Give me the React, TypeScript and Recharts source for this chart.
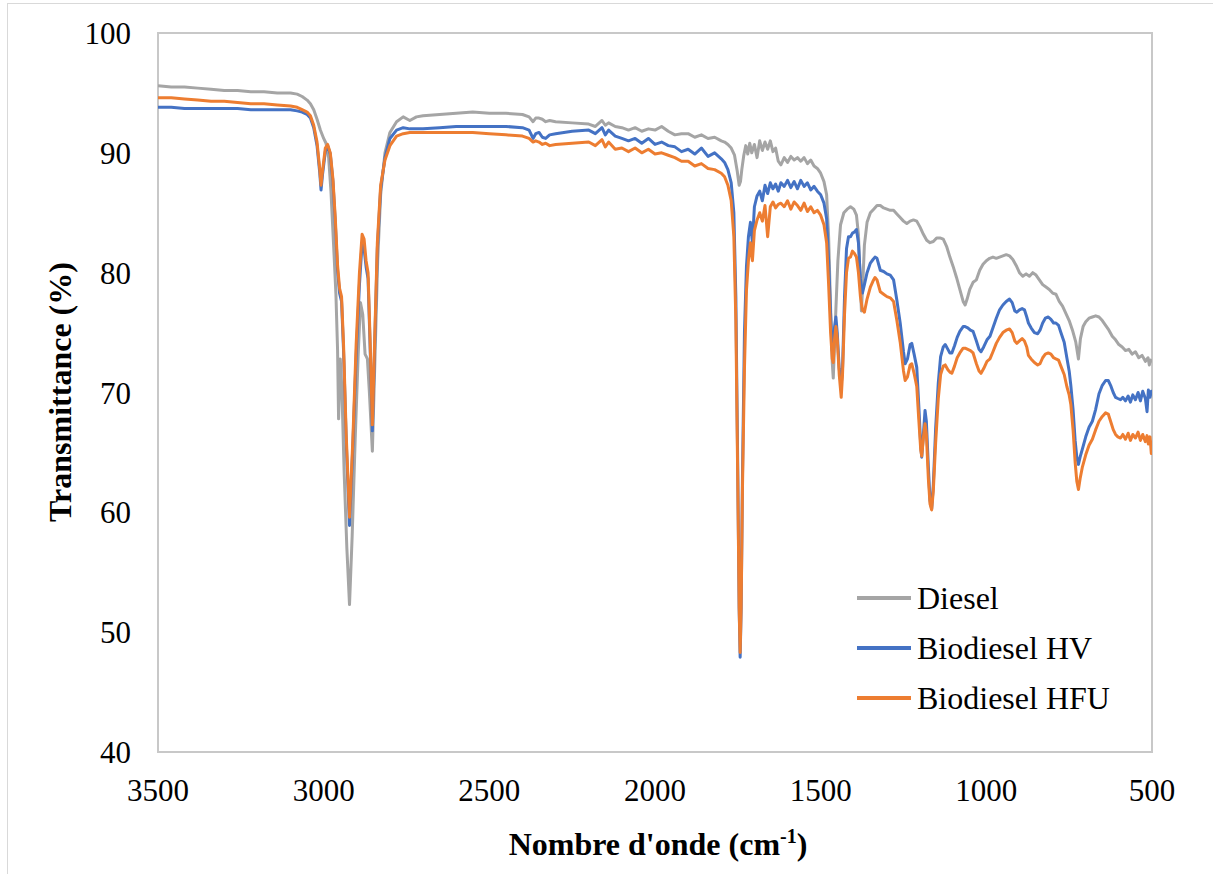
import { Legend, Line, LineChart, ReferenceArea, XAxis, YAxis, Label } from "recharts";

const FONT = '"Liberation Serif", "Times New Roman", serif';

const X_TICKS = [3500, 3000, 2500, 2000, 1500, 1000, 500];
const Y_TICKS = [40, 50, 60, 70, 80, 90, 100];

// [wavenumber cm-1, transmittance %]
const DIESEL: [number, number][] = [
  [3500, 95.6], [3460, 95.5], [3420, 95.5], [3380, 95.4], [3340, 95.3], [3300, 95.2], [3260, 95.2], [3220, 95.1],
  [3180, 95.1], [3140, 95.0], [3100, 95.0], [3080, 94.9], [3065, 94.7], [3050, 94.4], [3040, 94.1], [3030, 93.6],
  [3020, 92.8], [3010, 91.9], [3000, 91.2], [2993, 90.8], [2985, 89.6], [2978, 86.8], [2970, 82.3], [2963, 78.2],
  [2958, 73.5], [2955, 67.8], [2950, 72.8], [2945, 70.2], [2938, 63.2], [2930, 57.0], [2922, 52.3], [2914, 58.0],
  [2905, 66.0], [2896, 73.0], [2889, 77.5], [2882, 76.5], [2875, 73.2], [2868, 72.8], [2862, 70.0], [2853, 65.1],
  [2845, 73.0], [2837, 81.0], [2828, 86.5], [2815, 90.0], [2800, 91.7], [2780, 92.6], [2760, 93.0], [2740, 92.7],
  [2720, 93.0], [2700, 93.1], [2650, 93.2], [2600, 93.3], [2550, 93.4], [2500, 93.3], [2450, 93.3], [2400, 93.2],
  [2380, 93.0], [2368, 92.6], [2360, 92.9], [2350, 92.9], [2340, 92.8], [2330, 92.6], [2318, 92.7], [2300, 92.6],
  [2250, 92.5], [2200, 92.4], [2180, 92.2], [2160, 92.7], [2150, 92.3], [2140, 92.5], [2120, 92.2], [2100, 92.1],
  [2080, 91.9], [2060, 92.1], [2040, 91.8], [2020, 92.0], [2000, 91.9], [1980, 92.2], [1960, 91.8], [1940, 91.5],
  [1920, 91.6], [1900, 91.6], [1880, 91.3], [1860, 91.5], [1840, 91.2], [1820, 91.3], [1800, 91.0], [1790, 90.9],
  [1780, 90.7], [1770, 90.4], [1760, 89.8], [1752, 88.5], [1746, 87.3], [1742, 87.6], [1738, 88.6], [1732, 89.8],
  [1726, 90.6], [1720, 89.9], [1714, 90.8], [1708, 90.0], [1700, 90.7], [1692, 89.6], [1684, 91.0], [1676, 90.2],
  [1668, 90.9], [1660, 90.3], [1652, 91.0], [1644, 90.1], [1636, 90.4], [1628, 89.3], [1620, 89.0], [1610, 89.6],
  [1600, 89.2], [1590, 89.7], [1580, 89.4], [1570, 89.6], [1560, 89.3], [1550, 89.6], [1540, 89.1], [1530, 89.4],
  [1520, 88.9], [1510, 88.7], [1500, 88.3], [1490, 87.6], [1482, 86.5], [1476, 83.0], [1470, 77.0], [1465, 72.5],
  [1462, 71.2], [1458, 74.0], [1454, 77.0], [1448, 81.0], [1440, 84.0], [1430, 85.0], [1420, 85.3], [1410, 85.5],
  [1400, 85.3], [1392, 84.8], [1386, 83.2], [1381, 79.5], [1377, 76.8], [1373, 79.0], [1368, 82.3], [1360, 84.2],
  [1350, 85.0], [1340, 85.3], [1330, 85.6], [1320, 85.6], [1310, 85.4], [1300, 85.3], [1290, 85.2], [1280, 85.2],
  [1270, 84.9], [1260, 84.6], [1250, 84.3], [1240, 84.1], [1230, 84.3], [1220, 84.4], [1210, 84.3], [1200, 83.8],
  [1190, 83.2], [1180, 82.7], [1170, 82.5], [1160, 82.6], [1150, 82.9], [1140, 82.9], [1130, 82.8], [1120, 82.2],
  [1110, 81.3], [1100, 80.5], [1090, 79.6], [1080, 78.6], [1070, 77.6], [1064, 77.3], [1058, 77.8], [1050, 78.6],
  [1040, 79.2], [1030, 79.4], [1020, 80.2], [1010, 80.7], [1000, 81.0], [990, 81.2], [980, 81.3], [970, 81.2],
  [960, 81.3], [950, 81.4], [940, 81.5], [930, 81.4], [920, 81.1], [910, 80.6], [900, 80.0], [890, 79.7],
  [880, 79.9], [870, 79.7], [860, 80.0], [850, 79.8], [840, 79.4], [830, 79.0], [820, 78.8], [810, 78.6],
  [800, 78.3], [790, 78.2], [780, 77.6], [770, 77.2], [760, 76.6], [750, 76.0], [740, 75.2], [730, 74.2],
  [722, 72.8], [716, 74.5], [708, 75.5], [700, 75.9], [690, 76.2], [680, 76.3], [670, 76.4], [660, 76.3],
  [650, 76.0], [640, 75.6], [630, 75.2], [620, 74.7], [610, 74.4], [600, 74.0], [590, 73.8], [580, 73.5],
  [570, 73.6], [560, 73.2], [550, 73.4], [540, 72.9], [530, 73.1], [520, 72.6], [512, 72.9], [508, 72.3],
  [504, 72.7], [500, 72.5],
];

const BIODIESEL_HV: [number, number][] = [
  [3500, 93.8], [3460, 93.8], [3420, 93.7], [3380, 93.7], [3340, 93.7], [3300, 93.7], [3260, 93.7], [3220, 93.6],
  [3180, 93.6], [3140, 93.6], [3100, 93.6], [3080, 93.5], [3065, 93.4], [3050, 93.2], [3040, 92.9], [3030, 92.1],
  [3020, 90.6], [3012, 88.4], [3008, 86.9], [3003, 88.3], [2995, 90.1], [2988, 90.6], [2980, 89.9], [2972, 87.6],
  [2965, 84.2], [2958, 80.2], [2952, 78.3], [2946, 77.6], [2940, 73.5], [2932, 66.0], [2922, 58.9], [2912, 65.5],
  [2902, 73.0], [2892, 79.0], [2884, 82.5], [2878, 82.0], [2872, 80.5], [2866, 79.5], [2860, 74.0], [2853, 66.8],
  [2846, 74.0], [2838, 82.0], [2828, 87.0], [2815, 89.6], [2800, 91.2], [2780, 91.9], [2760, 92.1], [2740, 92.0],
  [2720, 92.0], [2700, 92.0], [2650, 92.1], [2600, 92.2], [2550, 92.2], [2500, 92.2], [2450, 92.2], [2400, 92.1],
  [2380, 91.9], [2368, 91.2], [2360, 91.6], [2350, 91.7], [2340, 91.3], [2330, 91.2], [2318, 91.5], [2300, 91.6],
  [2250, 91.8], [2200, 91.9], [2180, 91.6], [2160, 92.1], [2150, 91.5], [2140, 91.9], [2120, 91.4], [2100, 91.2],
  [2080, 91.0], [2060, 91.2], [2040, 90.8], [2020, 91.2], [2000, 90.7], [1980, 90.9], [1960, 90.6], [1940, 90.5],
  [1920, 90.1], [1900, 90.3], [1880, 89.9], [1860, 90.4], [1840, 89.7], [1820, 90.0], [1800, 89.5], [1790, 89.2],
  [1780, 88.6], [1770, 87.5], [1762, 85.0], [1756, 78.0], [1750, 63.0], [1746, 52.0], [1743, 47.9], [1740, 52.0],
  [1736, 63.0], [1730, 75.0], [1724, 80.5], [1718, 83.0], [1712, 84.2], [1706, 82.5], [1700, 85.5], [1692, 86.4],
  [1684, 86.8], [1676, 86.0], [1668, 87.3], [1660, 86.6], [1652, 87.5], [1644, 87.0], [1636, 87.4], [1628, 86.8],
  [1620, 87.5], [1610, 87.2], [1600, 87.7], [1590, 87.1], [1580, 87.6], [1570, 87.0], [1560, 87.7], [1550, 87.2],
  [1540, 87.5], [1530, 86.9], [1520, 87.2], [1510, 86.8], [1500, 86.5], [1490, 85.8], [1482, 84.5], [1476, 81.0],
  [1470, 76.5], [1465, 73.5], [1462, 73.2], [1458, 75.5], [1454, 76.3], [1450, 75.0], [1444, 72.0], [1438, 70.6],
  [1434, 72.0], [1428, 78.0], [1422, 82.0], [1416, 83.0], [1410, 83.0], [1404, 83.3], [1398, 83.4], [1392, 83.6],
  [1386, 82.5], [1380, 79.5], [1374, 78.3], [1368, 79.0], [1360, 80.0], [1350, 80.8], [1342, 81.1], [1336, 81.3],
  [1330, 81.2], [1320, 80.2], [1310, 80.1], [1300, 79.9], [1290, 79.8], [1280, 79.4], [1270, 77.7], [1260, 75.8],
  [1250, 73.4], [1245, 72.4], [1238, 72.8], [1230, 74.0], [1225, 74.1], [1218, 73.2], [1210, 72.1], [1204, 69.0],
  [1198, 65.6], [1195, 64.6], [1190, 66.5], [1185, 68.5], [1181, 67.6], [1175, 63.8], [1170, 61.0], [1165, 60.3],
  [1160, 62.3], [1153, 67.0], [1145, 70.8], [1138, 73.0], [1130, 73.8], [1124, 74.0], [1116, 73.6], [1110, 73.3],
  [1104, 73.3], [1096, 73.9], [1088, 74.6], [1080, 75.1], [1070, 75.5], [1064, 75.5], [1056, 75.4], [1048, 75.2],
  [1040, 75.1], [1030, 74.3], [1022, 73.6], [1016, 73.4], [1008, 73.8], [998, 74.4], [989, 74.7], [980, 75.4],
  [970, 76.2], [960, 76.9], [950, 77.3], [940, 77.6], [930, 77.8], [922, 77.5], [914, 76.8], [908, 76.7],
  [900, 76.9], [892, 77.0], [885, 76.9], [878, 76.3], [873, 75.8], [865, 75.4], [855, 75.0], [845, 74.9],
  [838, 75.2], [830, 75.8], [822, 76.2], [813, 76.3], [805, 76.1], [797, 75.8], [790, 75.8], [782, 75.6],
  [775, 75.0], [765, 74.2], [757, 72.9], [750, 71.8], [745, 70.6], [738, 68.5], [732, 66.0], [727, 64.6],
  [722, 64.0], [717, 64.6], [710, 65.3], [700, 66.3], [690, 67.1], [680, 67.6], [670, 68.6], [660, 69.9],
  [650, 70.6], [640, 71.0], [632, 71.0], [625, 70.6], [617, 70.0], [610, 69.6], [603, 69.5], [595, 69.4],
  [588, 69.6], [580, 69.3], [572, 69.7], [565, 69.2], [558, 69.8], [550, 69.4], [542, 70.0], [535, 69.3],
  [528, 70.1], [520, 69.5], [515, 68.4], [511, 70.2], [506, 69.6], [502, 70.1], [500, 69.8],
];

const BIODIESEL_HFU: [number, number][] = [
  [3500, 94.6], [3460, 94.6], [3420, 94.5], [3380, 94.4], [3340, 94.3], [3300, 94.3], [3260, 94.2], [3220, 94.1],
  [3180, 94.1], [3140, 94.0], [3100, 93.9], [3080, 93.8], [3065, 93.6], [3050, 93.4], [3040, 93.1], [3030, 92.3],
  [3020, 90.9], [3012, 88.7], [3008, 87.3], [3003, 88.6], [2995, 90.4], [2988, 90.7], [2980, 90.0], [2972, 87.8],
  [2965, 84.6], [2958, 80.6], [2952, 78.7], [2946, 78.0], [2940, 74.0], [2932, 66.5], [2922, 59.6], [2912, 66.0],
  [2902, 74.0], [2892, 80.0], [2884, 83.2], [2878, 82.8], [2872, 81.0], [2866, 80.0], [2860, 74.5], [2853, 67.3],
  [2846, 74.5], [2838, 82.5], [2828, 87.3], [2815, 89.4], [2800, 90.6], [2780, 91.4], [2760, 91.6], [2740, 91.7],
  [2720, 91.7], [2700, 91.7], [2650, 91.7], [2600, 91.7], [2550, 91.7], [2500, 91.6], [2450, 91.5], [2400, 91.4],
  [2380, 91.2], [2368, 90.9], [2360, 91.0], [2350, 90.9], [2340, 90.7], [2330, 90.8], [2318, 90.6], [2300, 90.7],
  [2250, 90.8], [2200, 90.9], [2180, 90.6], [2160, 91.1], [2150, 90.5], [2140, 90.9], [2120, 90.3], [2100, 90.4],
  [2080, 90.1], [2060, 90.4], [2040, 90.0], [2020, 90.3], [2000, 89.9], [1980, 90.0], [1960, 89.8], [1940, 89.6],
  [1920, 89.3], [1900, 89.3], [1880, 88.9], [1860, 89.1], [1840, 88.7], [1820, 88.6], [1800, 88.3], [1790, 88.0],
  [1780, 87.3], [1770, 86.0], [1762, 83.0], [1756, 76.0], [1750, 62.0], [1746, 52.0], [1743, 48.3], [1740, 52.0],
  [1736, 62.0], [1730, 72.0], [1724, 78.5], [1718, 81.0], [1712, 82.5], [1706, 81.0], [1700, 83.5], [1692, 84.4],
  [1684, 85.0], [1676, 84.3], [1668, 85.6], [1660, 83.0], [1652, 85.5], [1644, 85.9], [1636, 85.4], [1628, 85.7],
  [1620, 85.8], [1610, 85.5], [1600, 86.0], [1590, 85.3], [1580, 85.9], [1570, 85.6], [1560, 85.2], [1550, 85.8],
  [1540, 85.1], [1530, 85.5], [1520, 85.0], [1510, 85.2], [1500, 84.8], [1490, 84.0], [1482, 82.5], [1476, 79.0],
  [1470, 75.0], [1465, 72.8], [1462, 72.5], [1458, 74.5], [1454, 75.5], [1450, 74.5], [1444, 71.5], [1438, 69.6],
  [1434, 71.5], [1428, 76.5], [1422, 80.0], [1416, 81.2], [1410, 81.3], [1404, 81.8], [1398, 81.6], [1392, 81.3],
  [1386, 80.0], [1380, 78.0], [1374, 76.9], [1368, 76.7], [1360, 77.8], [1350, 78.8], [1342, 79.3], [1336, 79.6],
  [1330, 79.4], [1320, 78.4], [1310, 78.2], [1300, 78.0], [1290, 77.9], [1280, 77.6], [1270, 76.0], [1260, 74.2],
  [1250, 71.8], [1245, 71.0], [1238, 71.3], [1230, 72.3], [1225, 72.4], [1218, 71.6], [1210, 70.5], [1204, 67.8],
  [1198, 65.2], [1195, 64.7], [1190, 66.2], [1185, 67.4], [1181, 66.5], [1175, 62.8], [1170, 60.7], [1165, 60.2],
  [1160, 61.8], [1153, 65.8], [1145, 69.5], [1138, 71.5], [1130, 72.2], [1124, 72.3], [1116, 71.9], [1110, 71.7],
  [1104, 71.6], [1096, 72.2], [1088, 72.9], [1080, 73.3], [1070, 73.7], [1064, 73.7], [1056, 73.6], [1048, 73.5],
  [1040, 73.3], [1030, 72.4], [1022, 71.8], [1016, 71.6], [1008, 72.0], [998, 72.6], [989, 72.8], [980, 73.4],
  [970, 74.1], [960, 74.6], [950, 75.0], [940, 75.2], [930, 75.3], [922, 75.0], [914, 74.3], [908, 74.1],
  [900, 74.3], [892, 74.5], [885, 74.3], [878, 73.8], [873, 73.1], [865, 72.8], [855, 72.5], [845, 72.3],
  [838, 72.4], [830, 72.9], [822, 73.2], [813, 73.3], [805, 73.2], [797, 72.9], [790, 72.8], [782, 72.7],
  [775, 72.2], [765, 71.5], [757, 70.5], [750, 69.8], [745, 69.0], [738, 66.8], [732, 64.2], [727, 62.6],
  [722, 61.9], [717, 62.8], [710, 63.8], [700, 64.8], [690, 65.6], [680, 66.1], [670, 66.9], [660, 67.6],
  [650, 68.0], [640, 68.3], [632, 68.2], [625, 67.6], [617, 66.9], [610, 66.5], [603, 66.3], [595, 66.2],
  [588, 66.5], [580, 66.1], [572, 66.6], [565, 66.0], [558, 66.5], [550, 66.2], [542, 66.7], [535, 66.0],
  [528, 66.5], [520, 65.9], [515, 66.4], [511, 65.7], [506, 66.3], [502, 64.9], [500, 66.0],
];

const SERIES = [
  { name: "Diesel", color: "#A5A5A5", points: DIESEL },
  { name: "Biodiesel HV", color: "#4472C4", points: BIODIESEL_HV },
  { name: "Biodiesel HFU", color: "#ED7D31", points: BIODIESEL_HFU },
];

const toRows = (pairs: [number, number][]) => pairs.map(([wn, t]) => ({ wn, t }));

function LegendBox() {
  return (
    <div style={{ fontFamily: FONT, fontSize: 32, color: "#000" }}>
      {SERIES.map((s) => (
        <div key={s.name} style={{ display: "flex", alignItems: "center", height: 50 }}>
          <span style={{ display: "inline-block", width: 54, height: 4, background: s.color, marginRight: 6 }} />
          <span style={{ lineHeight: "36px", fontFamily: FONT }}>{s.name}</span>
        </div>
      ))}
    </div>
  );
}

export default function App() {
  const tick = { fill: "#000", fontSize: 31, fontFamily: FONT };
  return (
    <div
      style={{
        position: "absolute",
        left: 0,
        top: 0,
        width: 1213,
        height: 874,
        overflow: "hidden",
        background: "#fff",
        fontFamily: FONT,
      }}
    >
      <div style={{ position: "absolute", left: 7, top: 3, width: 1240, height: 900, border: "1px solid #D9D9D9" }} />
      <LineChart
        width={1213}
        height={874}
        margin={{ top: 33, right: 61, bottom: 62, left: 78 }}
        style={{ fontFamily: FONT }}
      >
        <XAxis
          type="number"
          dataKey="wn"
          domain={[500, 3500]}
          ticks={X_TICKS}
          reversed
          allowDataOverflow
          axisLine={false}
          tickLine={false}
          tick={tick}
          tickMargin={21}
          height={60}
        >
          <Label
            content={() => (
              <text x={658} y={855} textAnchor="middle" fontFamily={FONT} fontSize={32} fontWeight="bold" fill="#000">
                <tspan>Nombre d'onde (cm</tspan>
                <tspan dy={-12} fontSize={20}>-1</tspan>
                <tspan dy={12}>)</tspan>
              </text>
            )}
          />
        </XAxis>
        <YAxis
          type="number"
          domain={[40, 100]}
          ticks={Y_TICKS}
          allowDataOverflow
          axisLine={false}
          tickLine={false}
          tick={tick}
          tickMargin={21}
          width={80}
        >
          <Label
            content={() => (
              <text
                x={71}
                y={392}
                transform="rotate(-90 71 392)"
                textAnchor="middle"
                fontFamily={FONT}
                fontSize={32}
                fontWeight="bold"
                fill="#000"
              >
                Transmittance (%)
              </text>
            )}
          />
        </YAxis>
        <ReferenceArea x1={3500} x2={500} y1={40} y2={100} fill="none" stroke="#C8C8C8" strokeWidth={2} />
        {SERIES.map((s) => (
          <Line
            key={s.name}
            data={toRows(s.points)}
            dataKey="t"
            name={s.name}
            type="linear"
            stroke={s.color}
            strokeWidth={3}
            strokeLinejoin="round"
            dot={false}
            activeDot={false}
            isAnimationActive={false}
          />
        ))}
        <Legend
          layout="vertical"
          align="center"
          verticalAlign="middle"
          content={() => <LegendBox />}
          wrapperStyle={{ left: 857, top: 573, width: 320 }}
        />
      </LineChart>
    </div>
  );
}
